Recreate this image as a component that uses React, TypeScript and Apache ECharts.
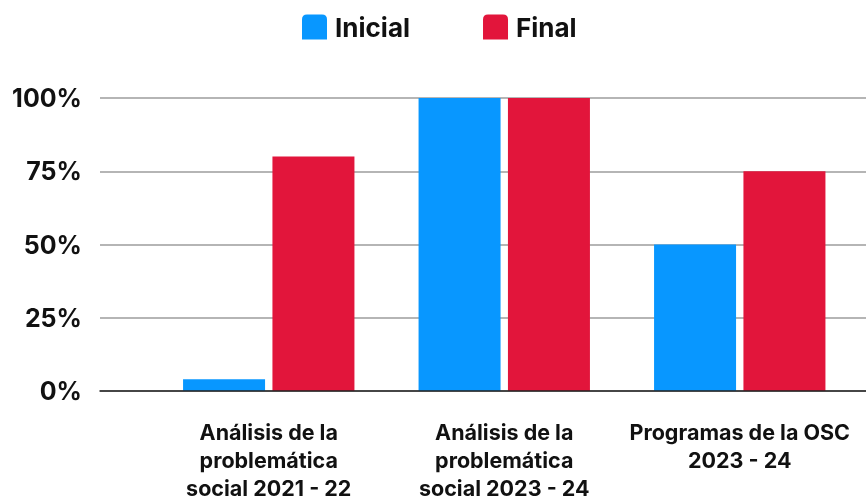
import React, { useEffect, useRef } from "react";
import * as echarts from "echarts";

const categories = [
  "Análisis de la\nproblemática\nsocial 2021 - 22",
  "Análisis de la\nproblemática\nsocial 2023 - 24",
  "Programas de la OSC\n2023 - 24",
];
const seriesNames = ["Inicial", "Final"];
const inicialValues = [4, 100, 50];
const finalValues = [80, 100, 75];
const yTicks = [0, 25, 50, 75, 100];

const FONT = "Inter, 'Noto Sans', sans-serif";
const BLUE = "#0897FF";
const RED = "#E2153B";

export default function App() {
  const ref = useRef<HTMLDivElement>(null);
  useEffect(() => {
    if (!ref.current) return;
    const chart = echarts.init(ref.current, null, { renderer: "svg" });
    const icon = "path://M0,5 Q0,0 5,0 L20,0 Q25,0 25,5 L25,25 L0,25 Z";
    chart.setOption({
      animation: false,
      legend: {
        data: seriesNames.map((n) => ({ name: n, icon })),
        top: 9,
        left: 297,
        itemWidth: 25,
        itemHeight: 25,
        itemGap: 73,
        textStyle: {
          fontFamily: FONT,
          fontWeight: 700,
          fontSize: 26,
          color: "#111",
          padding: [0, 0, 0, 3],
        },
      },
      grid: [
        { left: 100, right: 0, top: 98, bottom: 109, outerBoundsMode: "none" },
        { left: 151, right: 8.5, top: 98, bottom: 109, outerBoundsMode: "none" },
      ],
      xAxis: [
        {
          type: "category",
          gridIndex: 0,
          data: categories,
          axisLine: { show: true, lineStyle: { color: "#222", width: 1.5 } },
          axisTick: { show: false },
          axisLabel: { show: false },
          splitLine: { show: false },
          z: 5,
        },
        {
          type: "category",
          gridIndex: 1,
          data: categories,
          axisLine: { show: false },
          axisTick: { show: false },
          axisLabel: {
            fontFamily: FONT,
            fontWeight: 700,
            fontSize: 21.5,
            lineHeight: 28,
            color: "#111",
            margin: 27,
            interval: 0,
            align: "center",
          },
        },
      ],
      yAxis: [
        {
          type: "value",
          gridIndex: 0,
          min: yTicks[0],
          max: yTicks[yTicks.length - 1],
          interval: 25,
          axisLine: { show: false },
          axisTick: { show: false },
          axisLabel: {
            formatter: "{value}%",
            fontFamily: FONT,
            fontWeight: 700,
            fontSize: 25,
            color: "#111",
            margin: 18,
          },
          splitLine: { lineStyle: { color: "#b5b5b5", width: 2 } },
        },
        {
          type: "value",
          gridIndex: 1,
          min: 0,
          max: 100,
          interval: 25,
          show: false,
          splitLine: { show: false },
        },
      ],
      series: [
        {
          name: seriesNames[0],
          type: "bar",
          xAxisIndex: 1,
          yAxisIndex: 1,
          data: inicialValues,
          barWidth: 82,
          barGap: "9%",
          itemStyle: { color: BLUE },
          z: 3,
        },
        {
          name: seriesNames[1],
          type: "bar",
          xAxisIndex: 1,
          yAxisIndex: 1,
          data: finalValues,
          barWidth: 82,
          barGap: "9%",
          itemStyle: { color: RED },
          z: 3,
        },
      ],
    });
    return () => chart.dispose();
  }, []);
  return (
    <div
      ref={ref}
      style={{ position: "fixed", left: 0, top: 0, width: 866, height: 500 }}
    />
  );
}
